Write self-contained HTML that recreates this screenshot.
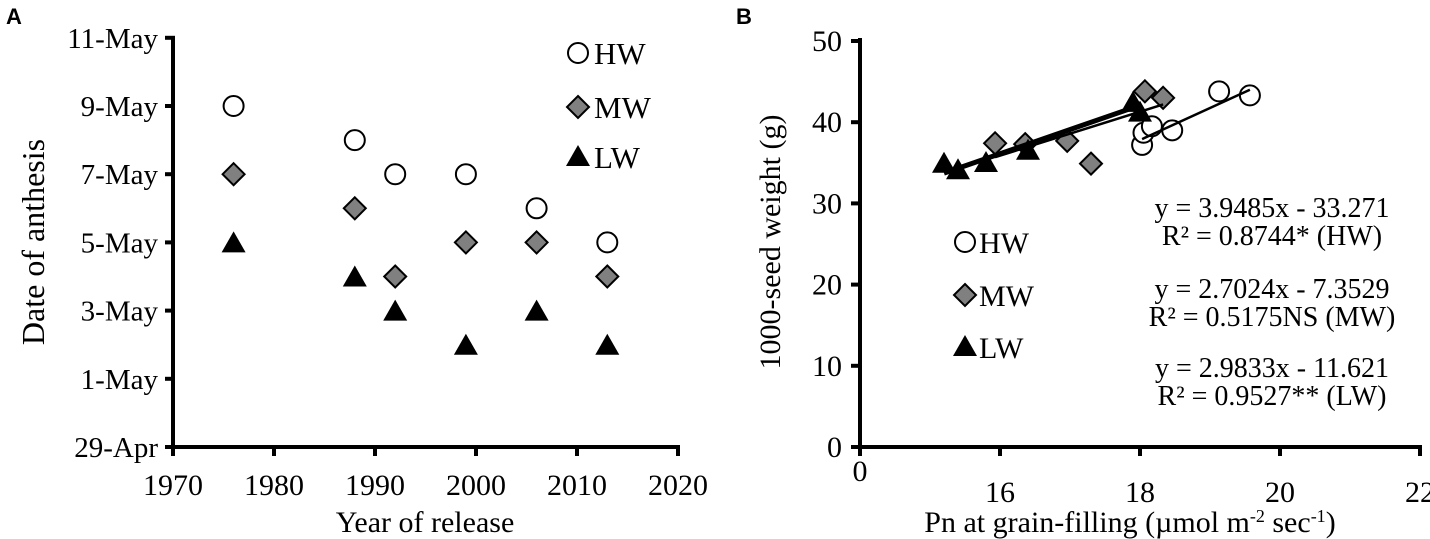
<!DOCTYPE html>
<html><head><meta charset="utf-8"><style>
body{margin:0;background:#fff}
svg{display:block;font-family:"Liberation Serif",serif}
</style></head><body>
<svg id="c" width="1430" height="539" viewBox="0 0 1430 539"></svg>
<script>
// Panel A data
const yearsA=[1976,1988,1992,1999,2006,2013];
const hwDay=[9,8,7,7,6,5];   // day of May
const mwDay=[7,6,4,5,5,4];
const lwDay=[5,4,3,2,3,2];
const aYTicks=["29-Apr","1-May","3-May","5-May","7-May","9-May","11-May"];
const aXTicks=[1970,1980,1990,2000,2010,2020];
// Panel B data
const hwPn=[18.03,18.05,18.17,18.46,19.13,19.57];
const hwSW=[37.2,38.7,39.5,39.0,43.8,43.3];
const mwPn=[15.93,16.36,16.96,17.3,18.07,18.33];
const mwSW=[37.4,37.3,37.7,34.9,43.8,43.0];
const lwPn=[15.2,15.4,15.8,16.4,17.9,18.0];
const lwSW=[35.0,34.2,35.1,36.6,42.5,41.3];
const bYTicks=[0,10,20,30,40,50];
const bXTicks=[16,18,20,22];
const fitSlope=[3.9485,2.7024,2.9833];
const fitInt=[-33.271,-7.3529,-11.621];

const svg=document.getElementById('c');
const NS='http://www.w3.org/2000/svg';
function mk(tag,at,parent){const e=document.createElementNS(NS,tag);for(const k in at)e.setAttribute(k,at[k]);(parent||svg).appendChild(e);return e;}
function txt(s,x,y,size,anchor,extra){const t=mk('text',Object.assign({x:x,y:y,'font-size':size,'text-anchor':anchor||'start',fill:'#000'},extra||{}));t.textContent=s;return t;}
function circ(g,x,y){return mk('circle',{cx:x,cy:y,r:10,fill:'#fff',stroke:'#000','stroke-width':2},g);}
function diam(g,x,y){return mk('polygon',{points:`${x},${y-11} ${x+11},${y} ${x},${y+11} ${x-11},${y}`,fill:'#808080',stroke:'#000','stroke-width':2},g);}
function tri(g,x,y){return mk('polygon',{points:`${x},${y-13} ${x+12},${y+8} ${x-12},${y+8}`,fill:'#000'},g);}

// ---- Panel A ----
const ax=v=>173+(v-1970)*10.1;
const ay=d=>447-d*34.1; // d = days since 29-Apr
const dA=m=>m+1;
let t=txt('A',6,24,22,'start',{'font-family':'Liberation Sans, sans-serif','font-weight':'bold'});

const gA=mk('g',{});
mk('line',{x1:173,y1:38,x2:173,y2:449,stroke:'#000','stroke-width':4},gA);
mk('line',{x1:171,y1:447,x2:680,y2:447,stroke:'#000','stroke-width':4},gA);
aYTicks.forEach((s,i)=>{const y=ay(i*2);mk('line',{x1:165,y1:y,x2:175,y2:y,stroke:'#000','stroke-width':4},gA);const l=txt(s,158,y+10,29,'end');});
aXTicks.forEach(v=>{const x=ax(v);mk('line',{x1:x,y1:445,x2:x,y2:456,stroke:'#000','stroke-width':4},gA);const l=txt(String(v),x,495,30,'middle');});
t=txt('Year of release',425,532,30,'middle');
t=txt('Date of anthesis',0,0,32,'middle',{transform:'translate(44,242) rotate(-90)'});
const sA=mk('g',{});
yearsA.forEach((yr,i)=>{circ(sA,ax(yr),ay(dA(hwDay[i])));diam(sA,ax(yr),ay(dA(mwDay[i])));tri(sA,ax(yr),ay(dA(lwDay[i]))+2);});
const lgA=mk('g',{});
circ(lgA,578,53);txt('HW',594,64,31,'start',{},lgA);
diam(lgA,578,107);txt('MW',594,118,31,'start');
tri(lgA,578,158);txt('LW',594,168,31,'start');

// ---- Panel B ----
const bx=v=>1000+(v-16)*70;
const by=v=>447-v*8.12;
t=txt('B',736,24,22,'start',{'font-family':'Liberation Sans, sans-serif','font-weight':'bold'});

const gB=mk('g',{});
mk('line',{x1:860,y1:38,x2:860,y2:449,stroke:'#000','stroke-width':4},gB);
mk('line',{x1:851,y1:447,x2:1421,y2:447,stroke:'#000','stroke-width':4},gB);
bYTicks.forEach(v=>{const y=by(v);mk('line',{x1:851,y1:y,x2:862,y2:y,stroke:'#000','stroke-width':4},gB);const l=txt(String(v),842,y+10,30,'end');});
mk('line',{x1:860,y1:445,x2:860,y2:456,stroke:'#000','stroke-width':4},gB);
t=txt('0',860,481,30,'middle');
bXTicks.forEach(v=>{const x=bx(v);mk('line',{x1:x,y1:445,x2:x,y2:456,stroke:'#000','stroke-width':4},gB);const l=txt(String(v),x,502,30,'middle');});
t=mk('text',{x:1130,y:532,'font-size':30,'text-anchor':'middle'});
t.innerHTML='Pn at grain-filling (µmol m<tspan dy="-10" font-size="18">-2</tspan><tspan dy="10"> sec</tspan><tspan dy="-10" font-size="18">-1</tspan><tspan dy="10">)</tspan>';

t=txt('1000-seed weight (g)',0,0,30,'middle',{transform:'translate(780,242) rotate(-90)'});
const sB=mk('g',{});
hwPn.forEach((v,i)=>circ(sB,bx(v),by(hwSW[i])));
mwPn.forEach((v,i)=>diam(sB,bx(v),by(mwSW[i])));
lwPn.forEach((v,i)=>tri(sB,bx(v),by(lwSW[i])+2));
const xs=[hwPn,mwPn,lwPn],ws=[2.5,2.5,5];
const names=['trendline-hw','trendline-mw','trendline-lw'];
xs.forEach((arr,k)=>{const a=Math.min(...arr),b=Math.max(...arr);
 const l=mk('line',{x1:bx(a),y1:by(fitSlope[k]*a+fitInt[k]),x2:bx(b),y2:by(fitSlope[k]*b+fitInt[k]),stroke:'#000','stroke-width':ws[k]});
 });
const lgB=mk('g',{});
circ(lgB,965,242);txt('HW',979,253,30,'start');
diam(lgB,965,295);txt('MW',979,306,30,'start');
tri(lgB,965,348);txt('LW',979,358,30,'start');
const eqs=[['y = 3.9485x - 33.271','R² = 0.8744* (HW)'],['y = 2.7024x - 7.3529','R² = 0.5175NS (MW)'],['y = 2.9833x - 11.621','R² = 0.9527** (LW)']];
const eqY=[217,298,377];
eqs.forEach((e,i)=>{const y0=eqY[i];const a=txt(e[0],1272,y0,28,'middle');const b=txt(e[1],1272,y0+28,28,'middle');});
</script>
</body></html>
